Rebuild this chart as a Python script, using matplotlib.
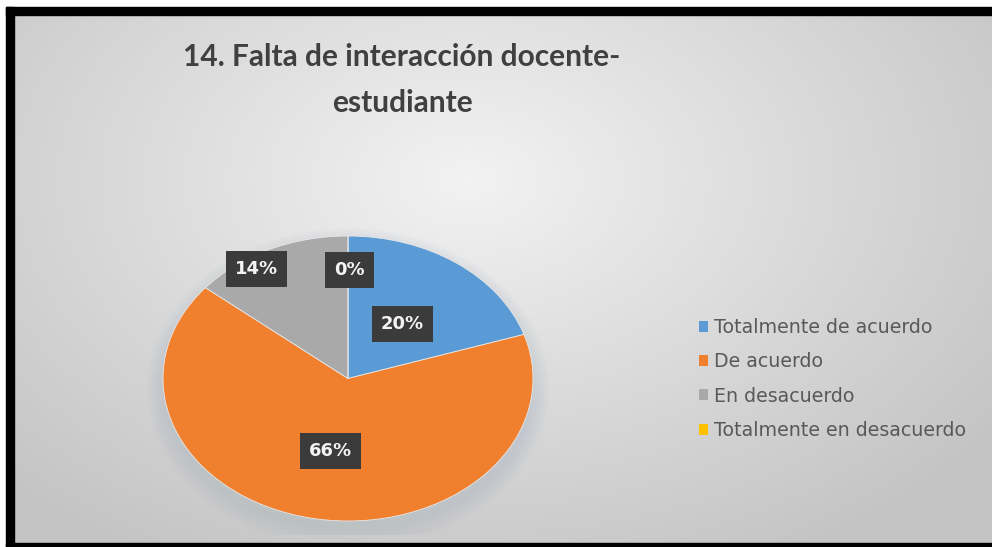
import numpy as np
import matplotlib.pyplot as plt
from matplotlib.patches import Rectangle, Ellipse, Patch

# data
categorias = ['Totalmente de acuerdo', 'De acuerdo', 'En desacuerdo', 'Totalmente en desacuerdo']
porcentajes = [20, 66, 14, 0]
colores = ['#5B9BD5', '#F07F2E', '#A9A9A9', '#FFC000']
titulo = '14. Falta de interacción docente-\nestudiante'

W, H = 992, 547
fig = plt.figure(figsize=(W / 100, H / 100), dpi=100)
fig.patch.set_facecolor('white')

# background: radial gray gradient + black frame
bg = fig.add_axes([0, 0, 1, 1])
bg.set_xlim(0, W)
bg.set_ylim(H, 0)
bg.axis('off')
yy, xx = np.mgrid[0:H, 0:W]
d = np.sqrt(((xx - 460) / 620.0) ** 2 + ((yy - 170) / 420.0) ** 2)
g = np.clip(0.95 - 0.17 * d, 0.77, 0.955)
bg.imshow(np.dstack([g, g, g]), extent=(14, W, 543, 15), aspect='auto', zorder=0)
bg.add_patch(Rectangle((6, 7), W - 6, 8, color='black', zorder=1))
bg.add_patch(Rectangle((6, 7), 8, H - 7, color='black', zorder=1))
bg.add_patch(Rectangle((6, 543), W - 6, 4, color='black', zorder=1))

bg.text(402, 80, titulo, ha='center', va='center', fontsize=21.5, fontweight='bold',
        family=['Lato', 'DejaVu Sans'], color='#404040',
        linespacing=1.75, zorder=2)

# pie (stretched horizontally like the original)
cx, cy, rx, ry = 348, 378.5, 185, 142.5
lim = 1.1
ax = fig.add_axes([(cx - lim * rx) / W, 1 - (cy + lim * ry) / H,
                   2 * lim * rx / W, 2 * lim * ry / H])
ax.patch.set_alpha(0)

# soft shadow under the pie
for k in range(8):
    ax.add_patch(Ellipse((0, -0.07), 2 + 0.025 * k, 2 + 0.035 * k,
                         color='#9fb0c2', alpha=0.045, lw=0, zorder=0))

wedges, _ = ax.pie(porcentajes, colors=colores, startangle=90, counterclock=False,
                   wedgeprops=dict(edgecolor='#e8e8e8', linewidth=0.6))
ax.set_aspect('auto')
ax.set_xlim(-lim, lim)
ax.set_ylim(-lim, lim)
for w in wedges:
    w.set_zorder(2)

# data labels (Excel moved the two small ones outward to avoid overlap)
label_r = [0.5, 0.5, 0.93, 0.78]
label_dang = [0, 0, 7, -0.5]
for w, p, r, da in zip(wedges, porcentajes, label_r, label_dang):
    ang = np.deg2rad((w.theta1 + w.theta2) / 2 + da)
    ax.text(r * np.cos(ang), r * np.sin(ang) - 0.02, f'{p}%', ha='center', va='center',
            fontsize=13, fontweight='bold', color='#f4f4f4', zorder=5,
            bbox=dict(boxstyle='square,pad=0.5', facecolor='#3b3b3b', edgecolor='none'))

# legend
handles = [Patch(facecolor=c, edgecolor='none') for c in colores]
leg = fig.legend(handles, categorias, loc='center left',
                 bbox_to_anchor=(689 / W, 1 - 379 / H), frameon=False,
                 fontsize=13.7, handlelength=0.5, handleheight=0.5, handletextpad=0.3,
                 labelspacing=0.8, borderpad=0)
for t in leg.get_texts():
    t.set_color('#595959')

fig.savefig('out.png', dpi=100)
